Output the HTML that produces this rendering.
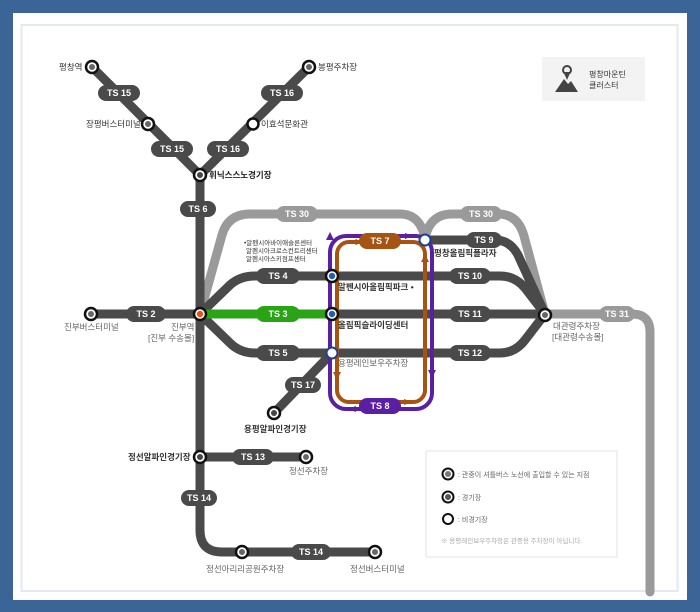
<!DOCTYPE html>
<html><head><meta charset="utf-8"><style>
html,body{margin:0;padding:0;background:#3b6597;}
svg{display:block;font-family:"Liberation Sans","Noto Sans CJK KR",sans-serif;}
.l{fill:none;stroke-linecap:round;stroke-linejoin:round;}
.t{font-size:9px;fill:#fff;font-weight:bold;text-anchor:middle;}
.s{font-size:8.5px;fill:#333;}
.g{font-size:8.5px;fill:#666;}
</style></head><body>
<svg width="700" height="612" viewBox="0 0 700 612">
<rect x="0" y="0" width="700" height="612" fill="#3b6597"/>
<rect x="13" y="13" width="674" height="587" fill="#fff"/>
<rect x="21.5" y="25" width="656" height="566" fill="none" stroke="#e3e8f2" stroke-width="2"/>

<!-- light gray lines -->
<g class="l" stroke="#9a9a9a" stroke-width="9">
<path d="M200,314 L222,235 Q228,214 250,214 L400,214 Q420,214 425,238"/>
<path d="M425,238 Q430,214 452,214 L498,214 Q518,214 524,236 L545,314"/>
<path d="M545,314 L632,314 Q650,314 650,332 L650,592"/>
</g>
<!-- dark lines -->
<g class="l" stroke="#4a4a4a" stroke-width="9">
<path d="M92,67 L200,175 L309,67"/>
<path d="M200,175 L200,530 Q200,552 222,552 L376,552"/>
<path d="M91,314 L200,314"/>
<path d="M200,314 L230,285 Q240,276 255,276 L500,276 Q515,276 525,288 L545,314"/>
<path d="M200,314 L230,343 Q240,353 255,353 L500,353 Q515,353 525,340 L545,314"/>
<path d="M332,314 L545,314"/>
<path d="M425,240 L495,240 Q510,240 518,255 L545,314"/>
<path d="M332,353 L274,413"/>
<path d="M200,457 L306,457"/>
</g>
<path class="l" d="M200,314 L332,314" stroke="#2aa316" stroke-width="9"/>

<!-- loops -->
<rect x="330" y="236" width="102" height="173" rx="16" fill="none" stroke="#5a1fa3" stroke-width="4"/>
<rect x="337" y="242" width="88" height="160" rx="12" fill="none" stroke="#a75311" stroke-width="4"/>
<g fill="#5a1fa3"><path d="M326,240 l4,-8 l4,8z"/><path d="M428,370 l4,8 l4,-8z"/><path d="M405,233 l8,3 l-8,3z"/><path d="M356,406 l-8,3 l8,3z"/></g>
<g fill="#a75311"><path d="M421,262 l4,-8 l4,8z"/><path d="M333,372 l4,8 l4,-8z"/><path d="M357,239 l-8,3 l8,3z"/><path d="M404,399 l8,3 l-8,3z"/></g>

<!-- labels -->
<g>
<rect x="98" y="85" width="42" height="16" rx="8" fill="#4a4a4a"/><text class="t" x="119" y="96">TS 15</text>
<rect x="151" y="141" width="42" height="16" rx="8" fill="#4a4a4a"/><text class="t" x="172" y="152">TS 15</text>
<rect x="261" y="85" width="42" height="16" rx="8" fill="#4a4a4a"/><text class="t" x="282" y="96">TS 16</text>
<rect x="207" y="141" width="42" height="16" rx="8" fill="#4a4a4a"/><text class="t" x="228" y="152">TS 16</text>
<rect x="180" y="201" width="36" height="16" rx="8" fill="#4a4a4a"/><text class="t" x="198" y="212">TS 6</text>
<rect x="276" y="206" width="42" height="16" rx="8" fill="#9a9a9a"/><text class="t" x="297" y="217">TS 30</text>
<rect x="460" y="206" width="42" height="16" rx="8" fill="#9a9a9a"/><text class="t" x="481" y="217">TS 30</text>
<rect x="126" y="306" width="40" height="16" rx="8" fill="#4a4a4a"/><text class="t" x="146" y="317">TS 2</text>
<rect x="256" y="268" width="44" height="16" rx="8" fill="#4a4a4a"/><text class="t" x="278" y="279">TS 4</text>
<rect x="256" y="306" width="44" height="16" rx="8" fill="#2aa316"/><text class="t" x="278" y="317">TS 3</text>
<rect x="256" y="345" width="44" height="16" rx="8" fill="#4a4a4a"/><text class="t" x="278" y="356">TS 5</text>
<rect x="359" y="233" width="42" height="16" rx="8" fill="#a75311"/><text class="t" x="380" y="244">TS 7</text>
<rect x="359" y="398" width="42" height="16" rx="8" fill="#5a1fa3"/><text class="t" x="380" y="409">TS 8</text>
<rect x="466" y="232" width="36" height="16" rx="8" fill="#4a4a4a"/><text class="t" x="484" y="243">TS 9</text>
<rect x="449" y="268" width="42" height="16" rx="8" fill="#4a4a4a"/><text class="t" x="470" y="279">TS 10</text>
<rect x="449" y="306" width="42" height="16" rx="8" fill="#4a4a4a"/><text class="t" x="470" y="317">TS 11</text>
<rect x="449" y="345" width="42" height="16" rx="8" fill="#4a4a4a"/><text class="t" x="470" y="356">TS 12</text>
<rect x="599" y="306" width="36" height="16" rx="8" fill="#9a9a9a"/><text class="t" x="617" y="317">TS 31</text>
<rect x="285" y="377" width="36" height="16" rx="8" fill="#4a4a4a"/><text class="t" x="303" y="388">TS 17</text>
<rect x="232" y="449" width="42" height="16" rx="8" fill="#4a4a4a"/><text class="t" x="253" y="460">TS 13</text>
<rect x="181" y="490" width="36" height="16" rx="8" fill="#4a4a4a"/><text class="t" x="199" y="501">TS 14</text>
<rect x="291" y="544" width="40" height="16" rx="8" fill="#4a4a4a"/><text class="t" x="311" y="555">TS 14</text>
</g>

<!-- nodes -->
<g stroke="#111" stroke-width="2.5" fill="#fff">
<circle cx="92" cy="67" r="6"/><circle cx="148" cy="124" r="6"/><circle cx="309" cy="67" r="6"/>
<circle cx="200" cy="175" r="6"/><circle cx="91" cy="314" r="6"/><circle cx="545" cy="315" r="6"/>
<circle cx="274" cy="413" r="6"/><circle cx="200" cy="457" r="6"/><circle cx="306" cy="457" r="6"/>
<circle cx="242" cy="552" r="6"/><circle cx="375" cy="552" r="6"/>
<circle cx="200" cy="314" r="6"/><circle cx="332" cy="276" r="6"/><circle cx="332" cy="314" r="6"/>
<circle cx="253" cy="124" r="5.5"/>
</g>
<g fill="#666"><circle cx="92" cy="67" r="3"/><circle cx="148" cy="124" r="3"/><circle cx="309" cy="67" r="3"/><circle cx="91" cy="314" r="3"/><circle cx="545" cy="315" r="3"/><circle cx="306" cy="457" r="3"/><circle cx="242" cy="552" r="3"/><circle cx="375" cy="552" r="3"/></g>
<g fill="#444"><circle cx="200" cy="175" r="3"/><circle cx="274" cy="413" r="3"/><circle cx="200" cy="457" r="3"/></g>
<circle cx="200" cy="314" r="3.2" fill="#e2540f"/>
<circle cx="332" cy="276" r="3.2" fill="#1f5fb3"/><circle cx="332" cy="314" r="3.2" fill="#1f5fb3"/>
<circle cx="332" cy="353" r="5.5" fill="#fff" stroke="#1f3f96" stroke-width="2"/>
<circle cx="425" cy="240" r="5.5" fill="#fff" stroke="#1f3f96" stroke-width="2"/>

<!-- station text -->
<text class="s" x="59" y="70">평창역</text>
<text class="s" x="86" y="127">장평버스터미널</text>
<text class="s" x="318" y="70">봉평주차장</text>
<text class="s" x="261" y="127">이효석문화관</text>
<text class="s" x="209" y="178" style="fill:#222;font-weight:bold">휘닉스스노경기장</text>
<text class="g" x="64" y="330">진부버스터미널</text>
<text class="g" x="171" y="330">진부역</text>
<text class="g" x="148" y="341">[진부 수송몰]</text>
<text x="244" y="245" style="font-size:6.5px;fill:#333">•알펜시아바이애슬론센터</text>
<text x="246" y="253" style="font-size:6.5px;fill:#333">알펜시아크로스컨트리센터</text>
<text x="246" y="261" style="font-size:6.5px;fill:#333">알펜시아스키점프센터</text>
<text class="s" x="338" y="290" style="font-weight:bold">알펜시아올림픽파크 •</text>
<text class="s" x="338" y="328" style="font-weight:bold">올림픽슬라이딩센터</text>
<text class="g" x="338" y="366">용평레인보우주차장</text>
<text class="s" x="434" y="256" style="font-weight:bold">평창올림픽플라자</text>
<text class="g" x="553" y="329">대관령주차장</text>
<text class="g" x="552" y="340">[대관령수송몰]</text>
<text class="s" x="244" y="432" style="font-weight:bold">용평알파인경기장</text>
<text class="s" x="128" y="460" style="font-weight:bold">정선알파인경기장</text>
<text class="g" x="289" y="474">정선주차장</text>
<text class="g" x="206" y="572">정선아리리공원주차장</text>
<text class="g" x="350" y="572">정선버스터미널</text>

<!-- top right box -->
<rect x="542" y="57" width="103" height="44" fill="#f3f3f3"/>
<path d="M555,92 l9,-13 l4,5 l3,-3 l7,11z" fill="#444"/>
<circle cx="567" cy="70" r="4" fill="none" stroke="#444" stroke-width="2"/>
<path d="M563.5,72 L567,80 L570.5,72z" fill="#444"/>
<text class="s" x="589" y="77" style="font-size:8px">평창마운틴</text>
<text class="s" x="589" y="88" style="font-size:8px">클러스터</text>

<!-- legend -->
<rect x="426" y="451" width="191" height="106" fill="#fff" stroke="#e3e3e3" stroke-width="1"/>
<circle cx="448" cy="474" r="5.5" fill="#fff" stroke="#111" stroke-width="2"/><circle cx="448" cy="474" r="3" fill="#777"/>
<circle cx="448" cy="497" r="5.5" fill="#fff" stroke="#111" stroke-width="2"/><circle cx="448" cy="497" r="3" fill="#555"/>
<circle cx="448" cy="519" r="5" fill="#fff" stroke="#111" stroke-width="2"/>
<text class="g" x="458" y="477" style="font-size:7px">:  관중이 셔틀버스 노선에 출입할 수 있는 지점</text>
<text class="g" x="458" y="500" style="font-size:7px">:  경기장</text>
<text class="g" x="458" y="522" style="font-size:7px">:  비경기장</text>
<text x="441" y="543" style="font-size:6.5px;fill:#aaa">※ 용평레인보우주차장은 관중용 주차장이 아닙니다.</text>
</svg>
</body></html>
